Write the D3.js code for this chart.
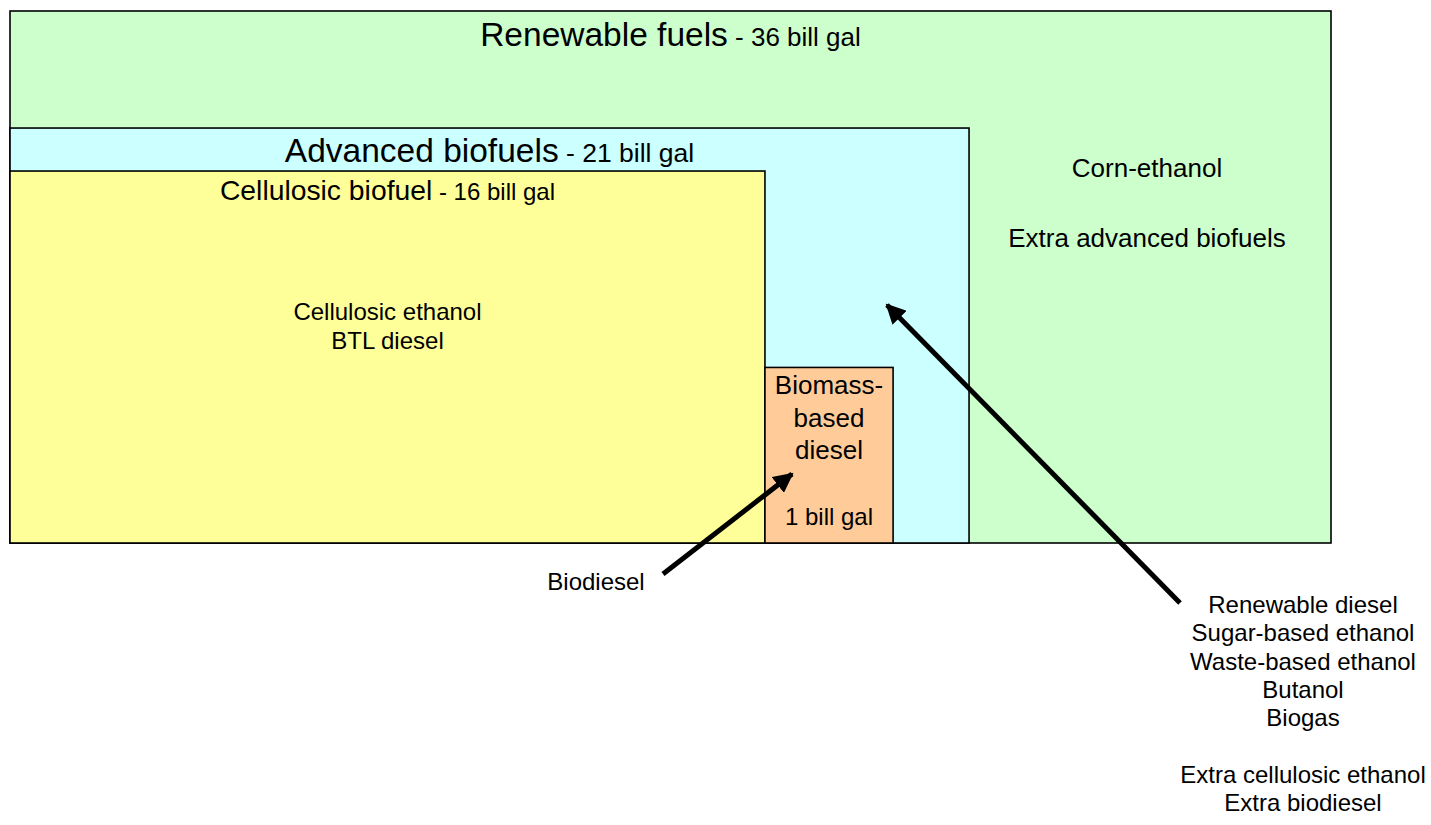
<!DOCTYPE html>
<html>
<head>
<meta charset="utf-8">
<script src="https://cdn.jsdelivr.net/npm/d3@7"></script>
<style>
  html, body { margin: 0; padding: 0; background: #fff; }
  svg { display: block; font-family: "Liberation Sans", Arial, sans-serif; }
</style>
</head>
<body>
<div id="chart"></div>
<script>
// mandate categories and volumes (billion gallons)
const categories = ["Renewable fuels", "Advanced biofuels", "Cellulosic biofuel", "Biomass-based diesel"];
const volumes = [36, 21, 16, 1];
const unitLabel = "bill gal";

// fuels listed inside / next to each category
const renewableFuels = ["Corn-ethanol", "", "Extra advanced biofuels"];
const cellulosicFuels = ["Cellulosic ethanol", "BTL diesel"];
const biomassLines = ["Biomass-", "based", "diesel"];
const biodieselLabel = ["Biodiesel"];
const advancedFuels = ["Renewable diesel", "Sugar-based ethanol", "Waste-based ethanol", "Butanol", "Biogas", "", "Extra cellulosic ethanol", "Extra biodiesel"];

document.addEventListener("DOMContentLoaded", function () {
    const width = 1431;
    const height = 825;

    const svg = d3.select("#chart").append("svg")
        .attr("width", width)
        .attr("height", height);

    // layout grid in percent of the outer box
    const x = d3.scaleLinear().domain([0, 100]).range([10, 1331]);
    const y = d3.scaleLinear().domain([0, 100]).range([11, 543]);

    const layout = [
        { x0: 0, x1: 100, y0: 0, y1: 100, fill: "#ccffcc", title: 33.5, sub: 26, ty: 46 },
        { x0: 0, x1: 72.6, y0: 22, y1: 100, fill: "#ccffff", title: 33.5, sub: 26.5, ty: 162 },
        { x0: 0, x1: 57.15, y0: 30.08, y1: 100, fill: "#ffff99", title: 28.3, sub: 24, ty: 200 },
        { x0: 57.15, x1: 66.85, y0: 67, y1: 100, fill: "#ffcc99" }
    ];

    const boxes = categories.map((c, i) => Object.assign({ name: c, vol: volumes[i] }, layout[i]));

    svg.selectAll("rect.box").data(boxes).enter().append("rect")
        .attr("class", "box")
        .attr("x", d => x(d.x0))
        .attr("y", d => y(d.y0))
        .attr("width", d => x(d.x1) - x(d.x0))
        .attr("height", d => y(d.y1) - y(d.y0))
        .attr("fill", d => d.fill)
        .attr("stroke", "#000")
        .attr("stroke-width", 1.6);

    // titles for the three large boxes
    boxes.slice(0, 3).forEach(d => {
        const t = svg.append("text")
            .attr("x", (x(d.x0) + x(d.x1)) / 2)
            .attr("y", d.ty)
            .attr("text-anchor", "middle")
            .attr("fill", "#000");
        t.append("tspan").attr("font-size", d.title).text(d.name);
        t.append("tspan").attr("font-size", d.sub).text(` - ${d.vol} ${unitLabel}`);
    });

    function block(lines, cx, y0, size, step) {
        svg.append("g").selectAll("text").data(lines).enter().append("text")
            .attr("x", cx)
            .attr("y", (d, i) => y0 + i * step)
            .attr("text-anchor", "middle")
            .attr("font-size", size)
            .attr("fill", "#000")
            .text(d => d);
    }

    const bio = boxes[3];
    const bioCx = (x(bio.x0) + x(bio.x1)) / 2;

    block(renewableFuels, 1147, 177, 26, 35);
    block(cellulosicFuels, (x(0) + x(57.15)) / 2, 320, 24, 29);
    block(biomassLines, bioCx, 394, 26, 32.5);
    block([`${bio.vol} ${unitLabel}`], bioCx, 525, 24, 0);
    block(biodieselLabel, 596, 590, 24, 0);
    block(advancedFuels, 1303, 613, 24, 28.3);

    // arrows
    svg.append("defs").append("marker")
        .attr("id", "head")
        .attr("viewBox", "0 0 10 10")
        .attr("refX", 9)
        .attr("refY", 5)
        .attr("markerWidth", 4)
        .attr("markerHeight", 4)
        .attr("markerUnits", "strokeWidth")
        .attr("orient", "auto")
        .append("path")
        .attr("d", "M0,0 L10,5 L0,10 z")
        .attr("fill", "#000");

    const arrows = [
        { from: [1180, 603], to: [887, 305] },
        { from: [663, 574], to: [792, 474] }
    ];

    svg.selectAll("line.arrow").data(arrows).enter().append("line")
        .attr("class", "arrow")
        .attr("x1", d => d.from[0])
        .attr("y1", d => d.from[1])
        .attr("x2", d => d.to[0])
        .attr("y2", d => d.to[1])
        .attr("stroke", "#000")
        .attr("stroke-width", 5)
        .attr("marker-end", "url(#head)");
});
</script>
</body>
</html>
